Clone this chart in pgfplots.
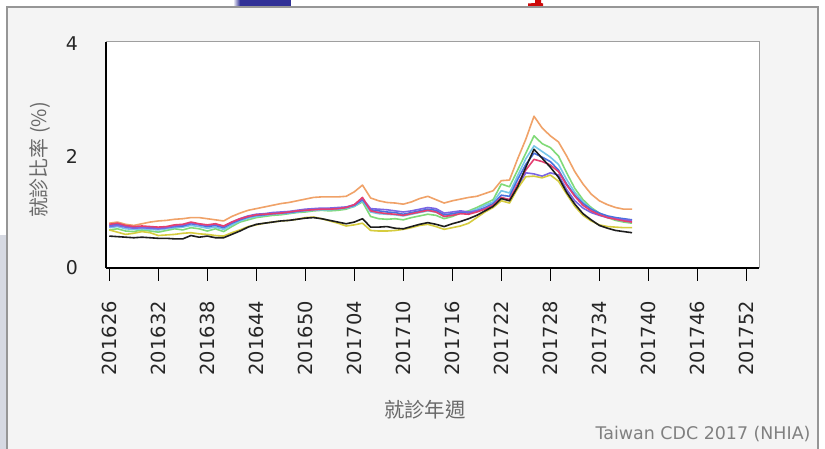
\documentclass[border=0pt]{standalone}
\usepackage{fontspec}
\setmainfont{DejaVu Sans}
\newfontfamily\cjk{Noto Sans CJK TC}
\usepackage{pgfplots}
\usepackage{pgfplotstable}
\pgfplotsset{compat=1.18}

\definecolor{panelbg}{RGB}{244,244,244}
\definecolor{panelrule}{RGB}{150,150,150}
\definecolor{labelgray}{RGB}{105,105,105}
\definecolor{slideblue}{RGB}{48,48,150}
\definecolor{slidered}{RGB}{205,10,10}
\definecolor{slidegray}{RGB}{214,217,226}
\definecolor{cOrange}{RGB}{240,162,104}
\definecolor{cGreen}{RGB}{128,218,120}
\definecolor{cCyan}{RGB}{118,198,232}
\definecolor{cBlue}{RGB}{72,112,222}
\definecolor{cPurple}{RGB}{122,102,228}
\definecolor{cMagenta}{RGB}{228,62,112}
\definecolor{cYellow}{RGB}{214,204,62}
\definecolor{cBlack}{RGB}{30,30,30}

% weekly visit ratio (%), week index 0 = 201626 ... 64 = 201738
\pgfplotstableread{
w  o    g    c    b    p    m    y    k
0  0.80 0.68 0.72 0.76 0.74 0.78 0.68 0.57
1  0.82 0.70 0.74 0.78 0.76 0.80 0.64 0.56
2  0.78 0.66 0.70 0.74 0.73 0.76 0.60 0.55
3  0.76 0.65 0.69 0.72 0.71 0.74 0.62 0.54
4  0.79 0.68 0.70 0.73 0.72 0.75 0.65 0.55
5  0.82 0.66 0.69 0.72 0.71 0.74 0.63 0.54
6  0.84 0.64 0.68 0.71 0.70 0.73 0.58 0.53
7  0.85 0.67 0.70 0.72 0.72 0.74 0.59 0.53
8  0.87 0.70 0.72 0.74 0.75 0.77 0.60 0.52
9  0.88 0.68 0.73 0.75 0.77 0.78 0.62 0.52
10 0.90 0.72 0.76 0.79 0.80 0.82 0.63 0.58
11 0.90 0.70 0.74 0.77 0.78 0.79 0.61 0.55
12 0.88 0.66 0.71 0.74 0.76 0.77 0.60 0.57
13 0.86 0.70 0.73 0.76 0.78 0.79 0.58 0.54
14 0.84 0.65 0.69 0.72 0.74 0.75 0.57 0.54
15 0.92 0.74 0.77 0.80 0.82 0.82 0.63 0.60
16 0.98 0.82 0.84 0.86 0.88 0.88 0.68 0.66
17 1.03 0.86 0.89 0.91 0.93 0.92 0.74 0.73
18 1.06 0.90 0.92 0.94 0.96 0.95 0.77 0.78
19 1.09 0.92 0.94 0.95 0.97 0.96 0.80 0.80
20 1.12 0.94 0.96 0.97 0.99 0.97 0.82 0.82
21 1.15 0.95 0.97 0.98 1.00 0.98 0.84 0.84
22 1.17 0.97 0.98 0.99 1.01 1.00 0.85 0.85
23 1.20 0.99 1.00 1.01 1.03 1.02 0.87 0.87
24 1.23 1.00 1.02 1.03 1.05 1.03 0.90 0.89
25 1.26 1.02 1.03 1.05 1.06 1.04 0.91 0.90
26 1.27 1.03 1.04 1.05 1.07 1.05 0.88 0.88
27 1.27 1.02 1.04 1.06 1.07 1.05 0.84 0.85
28 1.27 1.03 1.05 1.06 1.08 1.06 0.80 0.82
29 1.28 1.05 1.07 1.08 1.09 1.08 0.75 0.79
30 1.36 1.10 1.10 1.12 1.13 1.13 0.77 0.82
31 1.48 1.18 1.20 1.22 1.24 1.26 0.80 0.88
32 1.25 0.92 1.00 1.04 1.06 1.02 0.67 0.73
33 1.20 0.88 0.97 1.02 1.05 0.99 0.66 0.73
34 1.17 0.87 0.96 1.00 1.04 0.97 0.66 0.74
35 1.16 0.88 0.95 0.99 1.02 0.96 0.67 0.71
36 1.14 0.86 0.93 0.96 1.00 0.94 0.69 0.70
37 1.18 0.90 0.96 0.99 1.02 0.97 0.72 0.74
38 1.24 0.93 0.99 1.02 1.05 1.00 0.76 0.78
39 1.28 0.96 1.02 1.05 1.08 1.03 0.78 0.81
40 1.22 0.94 1.00 1.03 1.06 1.00 0.74 0.78
41 1.16 0.88 0.92 0.95 0.98 0.92 0.69 0.74
42 1.20 0.92 0.95 0.97 1.00 0.94 0.72 0.79
43 1.23 0.98 0.99 1.00 1.02 0.97 0.75 0.83
44 1.26 1.02 1.00 0.98 1.00 0.96 0.80 0.88
45 1.28 1.08 1.05 1.02 1.02 1.00 0.90 0.94
46 1.33 1.15 1.12 1.08 1.06 1.05 1.00 1.02
47 1.38 1.22 1.18 1.15 1.12 1.12 1.08 1.10
48 1.56 1.50 1.38 1.30 1.25 1.26 1.20 1.24
49 1.57 1.45 1.34 1.28 1.22 1.22 1.16 1.20
50 1.95 1.75 1.65 1.58 1.45 1.50 1.42 1.45
51 2.30 2.05 1.95 1.85 1.70 1.75 1.63 1.80
52 2.71 2.36 2.18 2.05 1.68 1.94 1.64 2.12
53 2.50 2.22 2.08 1.98 1.64 1.90 1.61 1.96
54 2.36 2.15 1.98 1.90 1.70 1.84 1.66 1.80
55 2.25 2.00 1.85 1.75 1.66 1.72 1.55 1.62
56 2.00 1.70 1.58 1.50 1.40 1.48 1.32 1.35
57 1.72 1.42 1.35 1.30 1.20 1.28 1.10 1.14
58 1.50 1.22 1.18 1.15 1.07 1.12 0.94 0.97
59 1.32 1.08 1.06 1.05 0.99 1.02 0.84 0.86
60 1.20 0.98 0.97 0.98 0.94 0.95 0.77 0.76
61 1.13 0.90 0.91 0.93 0.90 0.90 0.74 0.71
62 1.08 0.85 0.87 0.90 0.88 0.87 0.73 0.67
63 1.05 0.82 0.84 0.88 0.86 0.84 0.72 0.65
64 1.05 0.80 0.82 0.86 0.85 0.82 0.72 0.63
}\visits

\begin{document}
\begin{tikzpicture}[x=1bp,y=1bp]
  \useasboundingbox (0,0) rectangle (825,449);
  \fill[white] (0,0) rectangle (825,449);
  % slide edges around the pasted chart
  \fill[slidegray] (0,0) rectangle (7,214);
  \shade[left color=white, right color=slideblue] (233,443) rectangle (240,449);
  \fill[slideblue] (240,443) rectangle (291,449);
  % foot of the red title glyph peeking above the panel
  \fill[slidered] (535,449) -- (535,446) -- (528,445.5) -- (528,443) -- (543,443)
    -- (543,445.5) -- (541,446) -- (541,449) -- cycle;
  % chart panel
  \fill[panelbg] (7,0) rectangle (818,442);
  \draw[panelrule, line width=1.2] (7,-2) -- (7,442) -- (818,442) -- (818,-2);

  \begin{axis}[
    at={(106bp,181bp)}, anchor=south west,
    scale only axis, width=653bp, height=226bp,
    xmin=-0.4, xmax=79.55, ymin=0, ymax=4.036,
    axis background/.style={fill=white},
    axis x line*=bottom, axis y line*=left,
    axis line style={-, black, line width=1.1bp},
    tick align=outside, major tick length=13bp,
    xtick={0,6,...,78},
    xticklabels={201626,201632,201638,201644,201650,201704,201710,201716,201722,201728,201734,201740,201746,201752},
    x tick style={black, line width=1.1bp},
    x tick label style={yshift=-20bp, rotate=90, anchor=east, inner sep=0pt,
      font=\fontsize{19.5}{21}\selectfont, text=black!85},
    ytick={0,2,4}, yticklabels={0,2,4},
    y tick style={draw=none},
    y tick label style={font=\fontsize{19}{21}\selectfont, text=black!85,
      anchor=center, xshift=-21bp},
    xlabel={\cjk 就診年週},
    xlabel style={at={(axis description cs:0.4885,-0.628)}, anchor=center,
      font=\fontsize{20.5}{22}\selectfont, text=labelgray},
    ylabel={\cjk 就診比率 (\%)},
    ylabel style={at={(axis description cs:-0.101,0.478)}, anchor=center, rotate=0,
      font=\fontsize{20}{22}\selectfont, text=labelgray},
    every axis plot/.append style={line width=1.6bp, line join=round},
    clip=false,
  ]
    \addplot[cOrange]  table[x=w, y=o] {\visits};
    \addplot[cGreen]   table[x=w, y=g] {\visits};
    \addplot[cCyan]    table[x=w, y=c] {\visits};
    \addplot[cBlue]    table[x=w, y=b] {\visits};
    \addplot[cPurple]  table[x=w, y=p] {\visits};
    \addplot[cMagenta] table[x=w, y=m] {\visits};
    \addplot[cYellow]  table[x=w, y=y] {\visits};
    \addplot[cBlack]   table[x=w, y=k] {\visits};
    \draw[gray!75, line width=1bp] (rel axis cs:0,1) -- (rel axis cs:1,1) -- (rel axis cs:1,0);
  \end{axis}

  \node[anchor=base east, text=labelgray!85, font=\fontsize{17.5}{19}\selectfont] at (814,9) {Taiwan CDC 2017 (NHIA)};
\end{tikzpicture}
\end{document}
